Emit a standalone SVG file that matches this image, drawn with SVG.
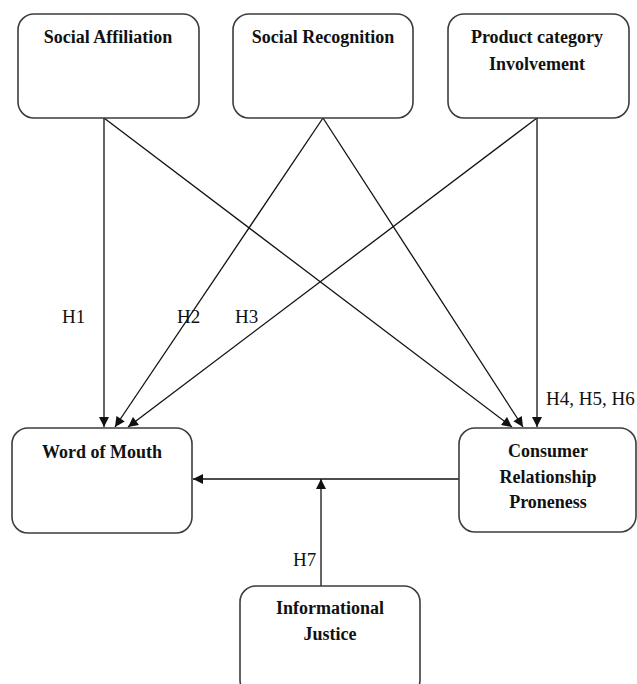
<svg xmlns="http://www.w3.org/2000/svg" width="637" height="684" viewBox="0 0 637 684">
<style>
.box{fill:#fff;stroke:#3c3c3c;stroke-width:1.6}
.t{font-family:"Liberation Serif","Times New Roman",serif;font-weight:bold;font-size:18px;fill:#111;text-anchor:middle}
.h{font-family:"Liberation Serif","Times New Roman",serif;font-size:19px;fill:#111}
.c{stroke:#111;stroke-width:1.3;fill:none;marker-end:url(#ah)}
</style>
<defs>
<marker id="ah" viewBox="0 0 10 10" refX="10" refY="5" markerWidth="11" markerHeight="10" markerUnits="userSpaceOnUse" orient="auto">
<path d="M0,0 L10,5 L0,10 z" fill="#111"/>
</marker>
</defs>
<rect width="637" height="684" fill="#fff"/>
<g id="connectors">
<line class="c" x1="104" y1="118" x2="104" y2="427"/>
<line class="c" x1="104" y1="118" x2="512" y2="427"/>
<line class="c" x1="323" y1="118" x2="115" y2="427"/>
<line class="c" x1="323" y1="118" x2="523" y2="427"/>
<line class="c" x1="537" y1="118" x2="128" y2="427"/>
<line class="c" x1="537" y1="118" x2="537" y2="427"/>
<line class="c" x1="459" y1="479" x2="193" y2="479"/>
<line class="c" x1="321" y1="586" x2="321" y2="479"/>
</g>
<g id="labels">
<text class="h" x="62" y="323">H1</text>
<text class="h" x="177" y="323">H2</text>
<text class="h" x="235" y="323">H3</text>
<text class="h" x="546" y="405">H4, H5, H6</text>
<text class="h" x="293" y="566">H7</text>
</g>
<g id="social-affiliation">
<rect class="box" x="18" y="14" width="181" height="104" rx="16"/>
<text class="t" x="108" y="43">Social Affiliation</text>
</g>
<g id="social-recognition">
<rect class="box" x="233" y="14" width="180" height="104" rx="16"/>
<text class="t" x="323" y="43">Social Recognition</text>
</g>
<g id="product-category-involvement">
<rect class="box" x="448" y="14" width="181" height="104" rx="16"/>
<text class="t" x="537" y="43">Product category</text>
<text class="t" x="537" y="70">Involvement</text>
</g>
<g id="word-of-mouth">
<rect class="box" x="12" y="428" width="180" height="105" rx="16"/>
<text class="t" x="102" y="458">Word of Mouth</text>
</g>
<g id="consumer-relationship-proneness">
<rect class="box" x="459" y="428" width="177" height="104" rx="16"/>
<text class="t" x="548" y="457">Consumer</text>
<text class="t" x="548" y="483">Relationship</text>
<text class="t" x="548" y="508">Proneness</text>
</g>
<g id="informational-justice">
<rect class="box" x="240" y="586" width="180" height="110" rx="16"/>
<text class="t" x="330" y="614">Informational</text>
<text class="t" x="330" y="640">Justice</text>
</g>
</svg>
